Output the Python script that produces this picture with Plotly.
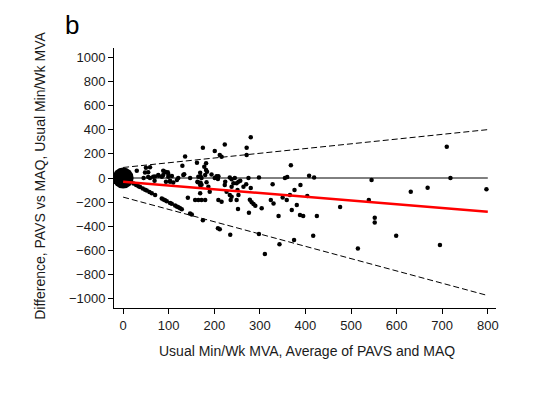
import plotly.graph_objects as go

# scattered points (average of PAVS and MAQ, difference PAVS - MAQ)
avg_pts = [30, 50, 59, 45, 59, 69, 66, 77, 85, 92, 99, 103, 107, 121, 130, 136, 132, 147,
           162, 165, 169, 164, 169, 172, 175, 178, 182, 182, 183, 187, 158, 165, 172, 180,
           142, 169, 190, 201, 208, 212, 216, 223, 205, 223, 227, 234, 238, 242, 245, 249,
           251, 253, 257, 264, 271, 271, 275, 280, 194, 201, 209, 224, 234, 238, 249, 253,
           270, 280, 298, 328, 355, 360, 368, 376, 389, 408, 419, 404, 381, 370, 388, 395,
           425, 417, 375, 343, 311, 298, 276, 304, 330, 341, 350, 324, 359, 366, 476, 278,
           282, 286, 290, 252, 236, 238, 216, 209, 710, 718, 545, 539, 631, 668, 797, 552,
           552, 599, 695, 515, 48, 55, 55, 70, 78, 88, 88, 92, 98, 99, 94, 103, 110, 134,
           170, 163, 170, 172, 180, 184, 118]
diff_pts = [60, 85, 88, 0, 0, -22, 11, 25, 11, 47, 33, -22, 16, 0, 102, 177, 25, 0,
            127, 11, 44, -36, -58, 0, 250, 93, 121, 66, -36, -72, -182, -182, -182, -182,
            -163, -127, -113, 223, -8, 190, 176, 278, 14, -58, -113, -141, -72, -44, 0, -182,
            -99, -141, -22, -72, 250, 190, 0, 336, 29, 0, 14, -30, 5, -11, -44, -30,
            -52, -82, 5, -52, 0, 8, 106, -99, -58, 19, 5, -149, -223, -265, -306, -314,
            -314, -477, -512, -548, -628, -463, -287, -251, -210, -314, -162, -182, -182, -141, -240, -180,
            -200, -215, -230, -257, -182, -155, -196, -182, 259, 0, -16, -182, -113, -80, -94, -328,
            -369, -477, -554, -584, 45, 47, 9, 12, 18, 25, 60, 52, 47, 11, -30, -30, -38, 30,
            14, -30, -40, -55, 25, 52, -16]

# points where PAVS reported zero (difference = -2 x average)
zero_avg = [8, 12, 16, 22.7, 28.5, 33.6, 37.3, 43.1, 48.2, 51.9, 57.7, 62.9, 70.2, 84.8,
            88.5, 92.1, 95.8, 103, 106.7, 114, 117.7, 121.3, 125, 128.7, 146.9, 150.6,
            175, 208, 212, 235]
zero_diff = [-16, -24, -32, -45.4, -57, -67.2, -74.6, -86.2, -96.4, -103.8, -115.4, -125.8,
             -140.4, -169.6, -177, -184.2, -191.6, -206, -213.4, -228, -235.4, -242.6, -250,
             -257.4, -293.8, -301.2, -350, -416, -424, -470]

# fitted mean difference and limits of agreement
line_x = [0, 800]
mean_fit = [-30, -280]
upper_loa = [87, 400]
lower_loa = [-158, -972]
zero_ref = [0, 0]

x_ticks = [0, 100, 200, 300, 400, 500, 600, 700, 800]
y_ticks = [-1000, -800, -600, -400, -200, 0, 200, 400, 600, 800, 1000]

x_title = 'Usual Min/Wk MVA, Average of PAVS and MAQ'
y_title = 'Difference, PAVS vs MAQ, Usual Min/Wk MVA'

fig = go.Figure()
fig.add_trace(go.Scatter(x=line_x, y=zero_ref, mode='lines',
                         line=dict(color='black', width=1)))
fig.add_trace(go.Scatter(x=line_x, y=upper_loa, mode='lines',
                         line=dict(color='black', width=1, dash='6px,3px')))
fig.add_trace(go.Scatter(x=line_x, y=lower_loa, mode='lines',
                         line=dict(color='black', width=1, dash='6px,3px')))
fig.add_trace(go.Scatter(x=avg_pts, y=diff_pts, mode='markers',
                         marker=dict(color='black', size=4.5)))
fig.add_trace(go.Scatter(x=zero_avg, y=zero_diff, mode='markers',
                         marker=dict(color='black', size=4.5)))
fig.add_trace(go.Scatter(x=[0], y=[0], mode='markers',
                         marker=dict(color='black', size=21)))
fig.add_trace(go.Scatter(x=line_x, y=mean_fit, mode='lines',
                         line=dict(color='red', width=2.5)))

tick_font = dict(family='Liberation Sans, Arial', size=13, color='#1a1a1a')
title_font = dict(family='Liberation Sans, Arial', size=14, color='#1a1a1a')

# the page body adds an 8px offset, so width/height/left/top are 8px smaller
fig.update_layout(
    width=536, height=387,
    margin=dict(l=106, r=48, t=40, b=87),
    paper_bgcolor='white', plot_bgcolor='white',
    showlegend=False,
    font=tick_font,
    xaxis=dict(range=[-20, 818], tickvals=x_ticks, showline=True, linecolor='black',
               linewidth=1, ticks='outside', ticklen=5, tickcolor='black',
               showgrid=False, zeroline=False, automargin=False, tickfont=tick_font),
    yaxis=dict(range=[-1075, 1075], tickvals=y_ticks, showline=True, linecolor='black',
               linewidth=1, ticks='outside', ticklen=5, tickcolor='black',
               showgrid=False, zeroline=False, automargin=False, tickfont=tick_font),
    annotations=[
        dict(text='b', xref='paper', yref='paper', x=-0.133, y=1.152,
             xanchor='left', yanchor='top', showarrow=False,
             font=dict(family='Liberation Sans, Arial', size=26, color='black')),
        dict(text=x_title, xref='paper', yref='paper',
             x=0.505, y=-0.165, xanchor='center', yanchor='middle', showarrow=False,
             font=title_font),
        dict(text=y_title, xref='paper', yref='paper',
             x=-0.194, y=0.508, xanchor='center', yanchor='middle', textangle=-90,
             showarrow=False, font=title_font),
    ]
)

fig.write_html("out.html")
